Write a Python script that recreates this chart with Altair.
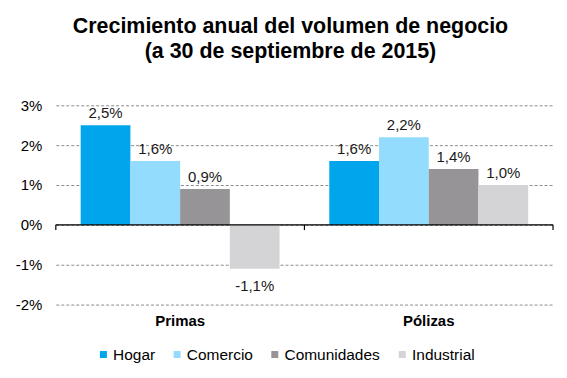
import altair as alt
import pandas as pd

grupos = ["Primas", "Pólizas"]
series = ["Hogar", "Comercio", "Comunidades", "Industrial"]
primas = [2.5, 1.6, 0.9, -1.1]
polizas = [1.6, 2.2, 1.4, 1.0]
colores = ["#00A5EC", "#93DCFD", "#969496", "#D4D3D6"]
y_ticks = [-2, -1, 0, 1, 2, 3]
titulo = ["Crecimiento anual del volumen de negocio", "(a 30 de septiembre de 2015)"]

rows = []
for g, vals in zip(grupos, [primas, polizas]):
    for s, v in zip(series, vals):
        rows.append({"Grupo": g, "Serie": s, "Valor": v,
                     "Etiqueta": f"{v:.1f}".replace(".", ",") + "%",
                     "Base": 0.0, "Marca": -0.13})
df = pd.DataFrame(rows)

W, H = 499, 200
FONT = "Liberation Sans"

x_enc = alt.X("Grupo:N", sort=grupos, title=None,
              scale=alt.Scale(paddingInner=0, paddingOuter=0))
xo_enc = alt.XOffset("Serie:N", sort=series,
                     scale=alt.Scale(paddingInner=0, paddingOuter=0.5))
y_enc = alt.Y("Valor:Q", title=None,
              scale=alt.Scale(domain=[y_ticks[0], y_ticks[-1]], nice=False, zero=False))
color_enc = alt.Color("Serie:N", sort=series,
                      scale=alt.Scale(domain=series, range=colores),
                      legend=alt.Legend(orient="none", legendX=40, legendY=242,
                                        direction="horizontal",
                                        title=None, symbolType="square",
                                        symbolSize=49, symbolStrokeWidth=0,
                                        labelFontSize=15.5, labelFont=FONT,
                                        labelColor="black", columnPadding=14,
                                        labelOffset=2))

base = alt.Chart(df)

bars = base.mark_bar().encode(x=x_enc, xOffset=xo_enc, y=y_enc, color=color_enc)

pos_labels = base.transform_filter("datum.Valor >= 0").mark_text(
    baseline="bottom", dy=-4, fontSize=15, font=FONT, color="#1a1a1a"
).encode(x=x_enc, xOffset=xo_enc, y=y_enc, text="Etiqueta:N")

neg_labels = base.transform_filter("datum.Valor < 0").mark_text(
    baseline="top", dy=10, fontSize=15, font=FONT, color="#1a1a1a"
).encode(x=x_enc, xOffset=xo_enc, y=y_enc, text="Etiqueta:N")

zero = base.transform_filter("datum.Serie == 'Hogar' && datum.Grupo == 'Primas'").mark_rule(
    color="black", strokeWidth=1.2
).encode(y=alt.Y("Base:Q", title=None))

ticks_left = base.transform_filter("datum.Serie == 'Hogar'").mark_rule(
    color="black", strokeWidth=1.2
).encode(x=alt.X("Grupo:N", sort=grupos, title=None, bandPosition=0),
         y=alt.Y("Base:Q", title=None), y2="Marca:Q")

ticks_right = base.transform_filter(
    "datum.Serie == 'Hogar' && datum.Grupo == 'Pólizas'"
).mark_rule(color="black", strokeWidth=1.2).encode(
    x=alt.X("Grupo:N", sort=grupos, title=None, bandPosition=1),
    y=alt.Y("Base:Q", title=None), y2="Marca:Q")

chart = alt.layer(bars, zero, ticks_left, ticks_right, pos_labels, neg_labels).properties(
    width=W, height=H,
    title=alt.Title(titulo, fontSize=21.5, fontWeight="bold", font=FONT,
                    lineHeight=25, anchor="middle", offset=36, dx=-14,
                    color="black"),
    padding={"left": 7, "top": 7, "right": 5, "bottom": 5},
).configure_view(stroke=None).configure_axisY(
    tickCount=5, labelExpr="datum.value + '%'", domain=False, ticks=False,
    gridDash=[3, 2], gridColor="#8c8c8c", labelFontSize=15, labelColor="black",
    labelPadding=14, labelFont=FONT, labelOverlap=False, title=None
).configure_axisX(
    labelAngle=0, domain=False, ticks=False, grid=False, labelFontWeight="bold",
    labelFontSize=15, labelColor="black", labelPadding=9, labelFont=FONT, title=None
)

chart.save("out.html", embed_options={"renderer": "svg", "actions": False})
